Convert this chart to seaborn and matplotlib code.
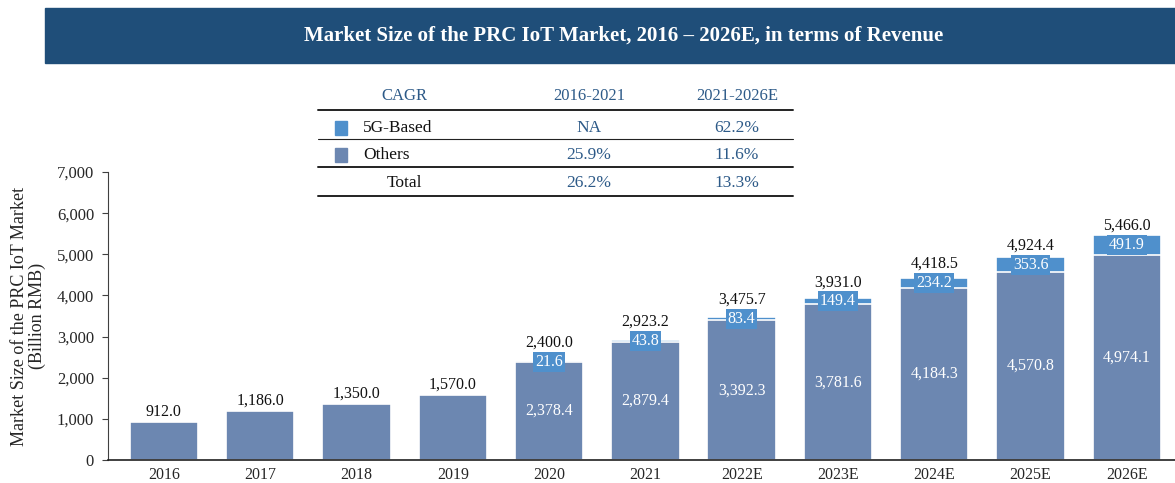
import pandas as pd
import matplotlib.pyplot as plt
import seaborn as sns
from matplotlib.patches import Rectangle
from matplotlib.lines import Line2D

# Chart data
years = ['2016', '2017', '2018', '2019', '2020', '2021', '2022E', '2023E', '2024E', '2025E', '2026E']
others = [912.0, 1186.0, 1350.0, 1570.0, 2378.4, 2879.4, 3392.3, 3781.6, 4184.3, 4570.8, 4974.1]
fiveg = [0, 0, 0, 0, 21.6, 43.8, 83.4, 149.4, 234.2, 353.6, 491.9]
totals = [912.0, 1186.0, 1350.0, 1570.0, 2400.0, 2923.2, 3475.7, 3931.0, 4418.5, 4924.4, 5466.0]

# CAGR table
cagr_header = ['CAGR', '2016-2021', '2021-2026E']
cagr_rows = [['5G-Based', 'NA', '62.2%'],
             ['Others', '25.9%', '11.6%'],
             ['Total', '26.2%', '13.3%']]

c_others = '#6c87b1'
c_5g = '#4f90cc'
c_banner = '#1f4e79'
c_blue_text = '#2d5a88'

df = pd.DataFrame({'Year': years, 'Others': others, '5G': fiveg, 'Total': totals})

sns.set_style('white')
plt.rcParams['font.family'] = ['Liberation Serif', 'DejaVu Serif']

fig = plt.figure(figsize=(11.75, 4.83), dpi=100)
W, H = 1175, 483
ax = fig.add_axes([108 / W, 1 - 460 / H, (1175 - 108) / W, (460 - 172) / H])

# stacked bars: total drawn in 5G colour, others drawn over it
sns.barplot(ax=ax, data=df, x='Year', y='Total', color=c_5g, saturation=1,
            width=0.71, edgecolor='white', linewidth=1.2)
sns.barplot(ax=ax, data=df, x='Year', y='Others', color=c_others, saturation=1,
            width=0.71, edgecolor='white', linewidth=1.2)

ax.set_ylim(0, 7000)
ax.set_xlim(-0.58, 10.5)
ax.set_yticks(range(0, 7001, 1000))
ax.set_yticklabels([f'{v:,}' for v in range(0, 7001, 1000)], fontsize=12)
ax.tick_params(axis='x', labelsize=11.5, length=0, pad=5)
ax.tick_params(axis='y', left=True, length=4, width=0.8, color='#404040', pad=6)
ax.set_xlabel('')
ax.set_ylabel('Market Size of the PRC IoT Market\n(Billion RMB)', fontsize=13, labelpad=8,
              linespacing=1.0)
for s in ['top', 'right']:
    ax.spines[s].set_visible(False)
ax.spines['left'].set_color('#404040')
ax.spines['bottom'].set_color('#202020')
ax.spines['bottom'].set_linewidth(1.2)

# value labels
for i, row in df.iterrows():
    if row['5G'] > 0:
        mid5 = row['Others'] + row['5G'] / 2
        ax.annotate(f"{row['5G']:,.1f}", (i, mid5), ha='center', va='center',
                    color='white', fontsize=11.5,
                    bbox=dict(boxstyle='square,pad=0.12', fc=c_5g, ec='none'))
        ax.annotate(f"{row['Total']:,.1f}", (i, mid5), xytext=(0, 8),
                    textcoords='offset points', ha='center', va='bottom',
                    color='#111111', fontsize=11.5)
        ax.text(i, row['Others'] / 2, f"{row['Others']:,.1f}", ha='center',
                va='center', color='white', fontsize=11.5)
    else:
        ax.annotate(f"{row['Total']:,.1f}", (i, row['Total']), xytext=(0, 2),
                    textcoords='offset points', ha='center', va='bottom',
                    color='#111111', fontsize=11.5)

# title banner
fig.patches.append(Rectangle((45 / W, 1 - 63 / H), 1 - 45 / W, 55 / H,
                             transform=fig.transFigure, color=c_banner, zorder=0))
fig.text(624 / W, 1 - 36 / H, 'Market Size of the PRC IoT Market, 2016 \u2013 2026E, in terms of Revenue',
         ha='center', va='center', color='white', fontsize=15, fontweight='bold')

# CAGR table
col_x = [404, 589, 737]
row_y = [96, 128, 155, 183]
for x, t in zip(col_x, cagr_header):
    fig.text(x / W, 1 - row_y[0] / H, t, ha='center', va='center', color=c_blue_text, fontsize=12)
for y, lw in zip([110, 139, 167, 196], [1.4, 0.8, 1.4, 1.4]):
    fig.lines.append(Line2D([318 / W, 793 / W], [1 - y / H, 1 - y / H],
                            transform=fig.transFigure, color='#222222', lw=lw))
sq_colors = [c_5g, c_others]
for r, row in enumerate(cagr_rows):
    y = 1 - row_y[r + 1] / H
    if r < 2:
        fig.patches.append(Rectangle((335 / W, y - 7 / H), 12 / W, 14 / H,
                                     transform=fig.transFigure, color=sq_colors[r]))
        fig.text(363 / W, y, row[0], ha='left', va='center', color='#111111', fontsize=12.5)
    else:
        fig.text(col_x[0] / W, y, row[0], ha='center', va='center', color='#111111', fontsize=12.5)
    fig.text(col_x[1] / W, y, row[1], ha='center', va='center', color=c_blue_text, fontsize=12.5)
    fig.text(col_x[2] / W, y, row[2], ha='center', va='center', color=c_blue_text, fontsize=12.5)

fig.savefig('out.png', dpi=100)
